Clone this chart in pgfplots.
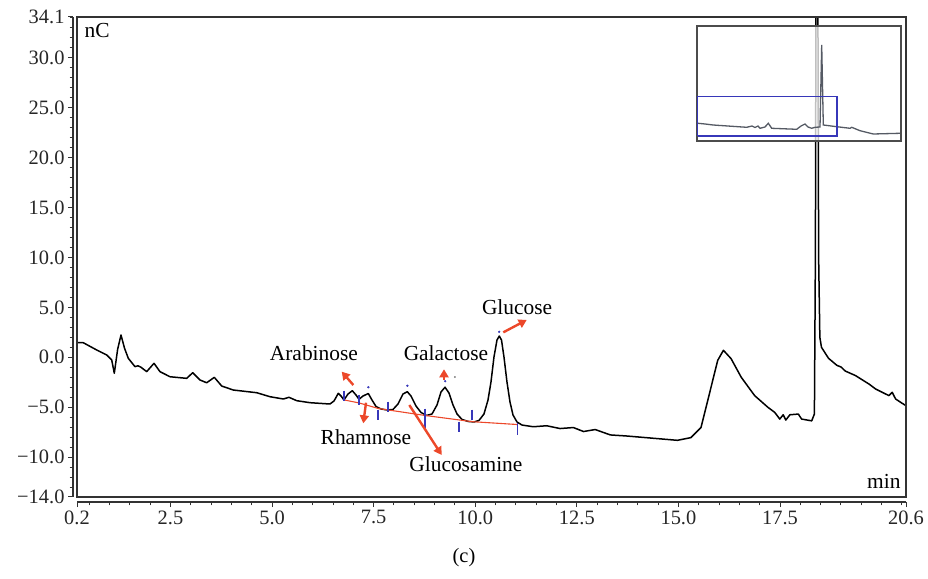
\documentclass[border=0pt]{standalone}
\usepackage{pgfplots}
\pgfplotsset{compat=1.18}
\usepackage{fontspec}
\setmainfont{Liberation Serif}
\usetikzlibrary{arrows.meta}
\definecolor{annred}{RGB}{236,72,42}
\definecolor{annblue}{RGB}{55,55,185}
\definecolor{insetline}{RGB}{85,90,100}
\newcommand{\fs}{\fontsize{20.5}{24}\selectfont}
\newcommand{\fa}{\fontsize{21.5}{25}\selectfont}
\begin{document}
\begin{tikzpicture}
\useasboundingbox (0,0) rectangle (928bp,579bp);
\begin{axis}[
  at={(77bp,82bp)}, anchor=south west,
  width=829bp, height=480bp, scale only axis,
  xmin=0.2, xmax=20.6, ymin=-14, ymax=34.1,
  axis lines*=left,
  axis x line shift=5bp, axis y line shift=4bp,
  axis line style={draw=black!80, line width=1.3bp},
  tick align=outside,
  major tick length=5bp, minor tick length=3.5bp,
  tick style={draw=black!80, line width=1bp},
  xtick={0.2,2.5,5,7.5,10,12.5,15,17.5,20.6},
  xticklabels={0.2,2.5,5.0,7.5,10.0,12.5,15.0,17.5,20.6},
  minor xtick={0.5,1,...,20.5},
  ytick={-14,-10,-5,0,5,10,15,20,25,30,34.1},
  yticklabels={−14.0,−10.0,−5.0,0.0,5.0,10.0,15.0,20.0,25.0,30.0,34.1},
  minor ytick={-13,-12,...,34},
  tick label style={font=\fs, text=black!85},
  clip mode=individual,
  after end axis/.code={\draw[black!80, line width=1.6bp] (rel axis cs:0,0) rectangle (rel axis cs:1,1);},
]
% chromatogram trace
\addplot[black, line width=1.5bp, line join=round] coordinates {
(0.2,1.46)(0.355,1.46)(0.685,0.73)(0.931,0.23)(1.054,-0.27)(1.118,-1.60)(1.20,0.8)(1.283,2.23)(1.37,0.9)(1.462,-0.10)
(1.627,-0.94)(1.70,-0.85)(1.775,-1.0)(1.915,-1.44)(2.095,-0.60)(2.242,-1.44)(2.489,-1.95)(2.899,-2.11)(3.047,-1.55)
(3.227,-2.28)(3.392,-2.55)(3.579,-2.01)(3.761,-2.88)(4.046,-3.28)(4.622,-3.55)(4.949,-3.95)(5.277,-4.18)(5.417,-4.01)
(5.607,-4.35)(5.934,-4.55)(6.3,-4.65)(6.426,-4.68)(6.524,-4.38)(6.630,-3.61)(6.697,-3.88)(6.770,-4.28)(6.869,-3.68)
(6.975,-3.35)(7.066,-3.78)(7.140,-4.21)(7.238,-3.88)(7.368,-3.63)(7.459,-4.28)(7.558,-4.93)(7.681,-5.18)(7.829,-5.28)
(7.976,-5.23)(8.099,-4.68)(8.222,-3.68)(8.328,-3.45)(8.419,-3.88)(8.542,-4.88)(8.665,-5.53)(8.805,-5.83)(8.936,-5.68)
(9.059,-4.78)(9.158,-3.47)(9.256,-3.00)(9.354,-3.58)(9.453,-4.78)(9.551,-5.68)(9.674,-6.23)(9.822,-6.43)(9.969,-6.48)
(10.092,-6.33)(10.215,-5.68)(10.314,-4.28)(10.387,-2.48)(10.461,0.03)(10.535,1.73)(10.592,2.13)(10.646,1.73)(10.707,0.03)
(10.781,-2.48)(10.855,-4.48)(10.929,-5.78)(11.027,-6.48)(11.150,-6.79)(11.429,-6.96)(11.758,-6.86)(12.086,-7.14)
(12.416,-7.04)(12.664,-7.44)(12.952,-7.24)(13.324,-7.78)(13.734,-7.89)(14.399,-8.12)(14.975,-8.32)(15.307,-8.05)
(15.555,-7.04)(15.720,-4.35)(15.966,-0.31)(16.107,0.70)(16.296,-0.14)(16.545,-2.00)(16.875,-3.84)(17.204,-5.02)
(17.369,-5.52)(17.494,-6.19)(17.578,-5.76)(17.642,-6.29)(17.743,-5.76)(17.950,-5.69)(18.031,-6.19)(18.280,-6.37)
(18.346,-5.68)(18.37,10)(18.39,45)(18.41,60)(18.425,45)(18.45,10)(18.48,2)(18.52,1.0)(18.567,0.7)(18.693,-0.10)
(18.900,-0.81)(19.0,-0.97)(19.106,-1.38)(19.355,-1.83)(19.685,-2.67)(19.849,-3.17)(20.179,-3.84)(20.260,-3.51)
(20.344,-4.18)(20.509,-4.62)(20.6,-4.85)
};
% integration baseline
\addplot[annred, line width=1.1bp] coordinates {
(6.778,-4.28)(7.147,-4.58)(7.614,-5.13)(7.860,-5.28)(8.764,-5.83)(9.608,-6.28)(9.920,-6.45)(11.045,-6.74)
};
% peak delimiters
\addplot[annblue, line width=1.5bp] coordinates {(6.770,-3.35)(6.770,-4.35)};
\addplot[annblue, line width=1.5bp] coordinates {(7.140,-3.75)(7.140,-4.75)};
\addplot[annblue, line width=1.5bp] coordinates {(7.607,-5.24)(7.607,-6.24)};
\addplot[annblue, line width=1.5bp] coordinates {(7.852,-4.45)(7.852,-5.45)};
\addplot[annblue, line width=1.5bp] coordinates {(8.764,-5.15)(8.764,-7.05)};
\addplot[annblue, line width=1.5bp] coordinates {(9.604,-6.45)(9.604,-7.45)};
\addplot[annblue, line width=1.5bp] coordinates {(9.917,-5.25)(9.917,-6.25)};
\addplot[annblue, line width=1.5bp] coordinates {(11.045,-6.56)(11.045,-7.76)};
\addplot[only marks, mark=*, mark size=0.9bp, annblue] coordinates {(7.37,-3.0)(8.33,-2.85)(9.26,-2.4)(10.59,2.55)};
\addplot[only marks, mark=*, mark size=0.7bp, gray] coordinates {(9.50,-1.98)};
% arrows
\draw[annred, line width=2.4bp, -{Triangle[length=8bp,width=9bp]}] (axis cs:7.00,-2.78) -- (axis cs:6.714,-1.44);
\draw[annred, line width=2.4bp, -{Triangle[length=8bp,width=9bp]}] (axis cs:7.312,-4.55) -- (axis cs:7.245,-6.62);
\draw[annred, line width=2.4bp, -{Triangle[length=8bp,width=9bp]}] (axis cs:9.231,-2.28) -- (axis cs:9.231,-1.20);
\draw[annred, line width=2.4bp, -{Triangle[length=8bp,width=9bp]}] (axis cs:8.377,-4.78) -- (axis cs:9.174,-9.79);
\draw[annred, line width=2.4bp, -{Triangle[length=8bp,width=9bp]}] (axis cs:10.69,2.50) -- (axis cs:11.266,3.74);
% labels
\node[font=\fa] at (axis cs:6.03,0.43) {Arabinose};
\node[font=\fa] at (axis cs:7.31,-8.0) {Rhamnose};
\node[font=\fa] at (axis cs:9.28,0.43) {Galactose};
\node[font=\fa] at (axis cs:9.77,-10.7) {Glucosamine};
\node[font=\fa] at (axis cs:11.03,5.04) {Glucose};
\node[font=\fa, anchor=east] at (axis cs:20.55,-12.4) {min};
\node[font=\fa, anchor=west] at (axis cs:0.30,32.7) {nC};
\end{axis}
% inset overview
\begin{axis}[
  at={(697bp,438bp)}, anchor=south west,
  width=204bp, height=115bp, scale only axis,
  xmin=0, xmax=204, ymin=0, ymax=115,
  ticks=none,
  axis line style={draw=black!70, line width=1.3bp},
  axis background/.style={fill=white, fill opacity=0.75},
]
\addplot[insetline, line width=1.3bp] coordinates {
(1,17.7)(8,17)(16,16)(49.7,13.7)(55,15)(58,13.5)(61,15)(63,12.7)(68,14)(71.3,17.7)(74.7,12.7)(99.7,11.7)(104,15)
(108,17)(111,14)(114.7,12.7)(118,13.7)(123,14)(124.7,96)(126.3,16)(139.7,14.3)(153,12.7)(154.7,13.7)(163,10.3)
(176.3,7)(203,7.7)
};
\addplot[annblue, line width=1.3bp] coordinates {(0.6,5)(140,5)(140,44.3)(0.6,44.3)(0.6,5)};
\end{axis}
\node[font=\fs] at (464bp,21bp) {(c)};
\end{tikzpicture}
\end{document}
